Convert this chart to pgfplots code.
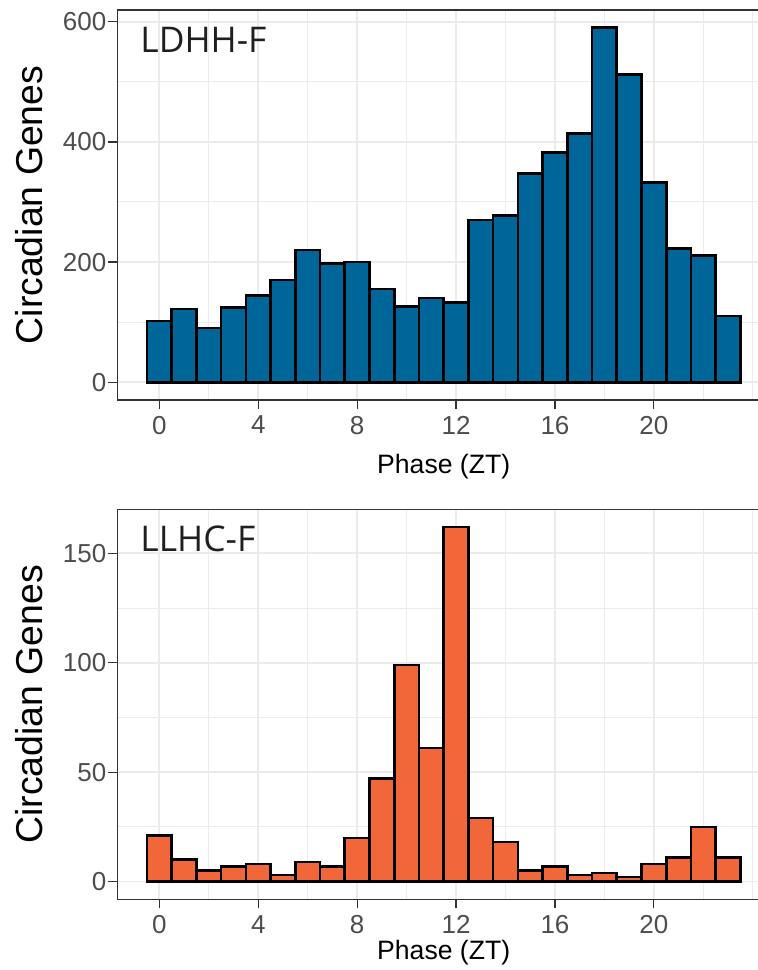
\documentclass[border=0pt]{standalone}
\usepackage{fontspec}
\setmainfont{Liberation Sans}
\newfontfamily\panelfont{Open Sans}
\usepackage{pgfplots}
\pgfplotsset{compat=1.18}

\definecolor{barblue}{HTML}{006699}
\definecolor{barorange}{HTML}{F2673A}
\definecolor{gridmaj}{HTML}{EBEBEB}
\definecolor{frame}{HTML}{333333}
\definecolor{ticktext}{HTML}{4D4D4D}

\tikzset{
  panellabel/.style={font=\panelfont\fontsize{17.7pt}{20pt}\selectfont,
    text=black!88, anchor=base west, inner sep=0pt},
}

\pgfplotsset{
  ggpanel/.style={
    scale only axis,
    width=326.4pt, height=195pt,
    xmin=-1.7, xmax=24.7,
    xtick={0,4,...,20},
    minor xtick={2,6,...,22,24},
    axis line style={frame, line width=0.6pt},
    tick style={frame, line width=0.6pt},
    tick align=outside,
    major tick length=4.5pt,
    xtick pos=bottom, ytick pos=left,
    grid=both,
    major grid style={gridmaj, line width=0.9pt},
    minor grid style={gridmaj, line width=0.5pt},
    minor tick length=0pt,
    ticklabel style={font=\fontsize{13pt}{15pt}\selectfont, text=ticktext},
    yticklabel style={xshift=2.5pt},
    /pgf/number format/assume math mode=true,
    xlabel={Phase (ZT)},
    ylabel={Circadian Genes},
    every axis y label/.style={at={(axis description cs:0,0.5)}, xshift=-37.15pt,
      rotate=90, anchor=base, font=\fontsize{18.7pt}{22pt}\selectfont},
  },
  ggbar/.style={ybar, bar width=1, draw=black, line width=1.3pt},
}

\begin{document}
\begin{tikzpicture}
\begin{axis}[ggpanel, name=top, at={(0,0)}, anchor=south west,
  ymin=-29.5, ymax=619.5,
  ytick={0,200,400,600}, minor ytick={100,300,500},
  every axis x label/.style={at={(axis description cs:0.5,0)}, yshift=-36.7pt,
    anchor=base, font=\fontsize{13.3pt}{15pt}\selectfont}]
\addplot[ggbar, fill=barblue] coordinates {
  (0,102) (1,122) (2,90) (3,124) (4,144) (5,170) (6,220) (7,198)
  (8,200) (9,155) (10,126) (11,140) (12,133) (13,270) (14,278) (15,347)
  (16,382) (17,414) (18,590) (19,512) (20,332) (21,223) (22,211) (23,110)
};
\node[panellabel] at (rel axis cs:0,1) [xshift=11.35pt, yshift=-21pt] {LDHH-F};
\end{axis}
\begin{axis}[ggpanel, name=bot, at={(0,-54.65pt)}, anchor=north west,
  ymin=-8.1, ymax=170.1,
  ytick={0,50,100,150}, minor ytick={25,75,125},
  every axis x label/.style={at={(axis description cs:0.5,0)}, yshift=-30.3pt,
    anchor=base, font=\fontsize{13.3pt}{15pt}\selectfont}]
\addplot[ggbar, fill=barorange] coordinates {
  (0,21) (1,10) (2,5) (3,7) (4,8) (5,3) (6,9) (7,7)
  (8,20) (9,47) (10,99) (11,61) (12,162) (13,29) (14,18) (15,5)
  (16,7) (17,3) (18,4) (19,2) (20,8) (21,11) (22,25) (23,11)
};
\node[panellabel] at (rel axis cs:0,1) [xshift=11.35pt, yshift=-21.2pt] {LLHC-F};
\end{axis}
\pgfresetboundingbox
\useasboundingbox (-58.65pt,-285pt) rectangle (320.35pt,200pt);
\end{tikzpicture}
\end{document}
